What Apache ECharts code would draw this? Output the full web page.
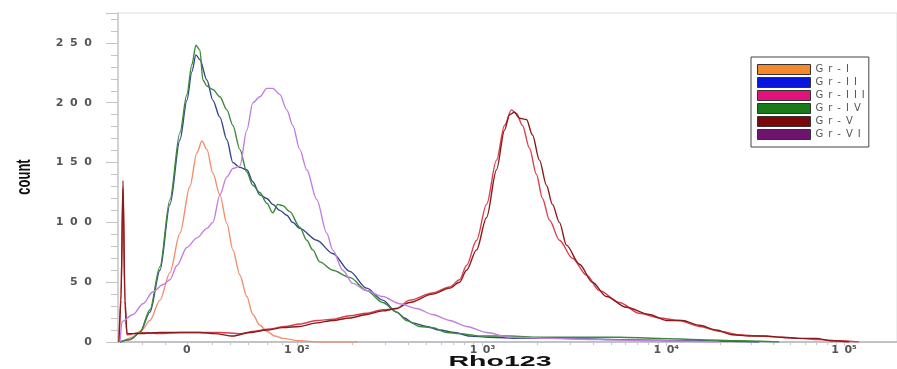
<!DOCTYPE html>
<html>
<head>
<meta charset="utf-8">
<script src="https://cdn.jsdelivr.net/npm/echarts@6/dist/echarts.min.js"></script>
<style>
  html, body { margin: 0; padding: 0; background: #fff; }
  #chart { width: 897px; height: 369px; }
</style>
</head>
<body>
<div id="chart"></div>
<script>
// Rho123 fluorescence histograms, x in display channels (biexponential scale), y in cell count
const groups = ['Gr-I', 'Gr-II', 'Gr-III', 'Gr-IV', 'Gr-V', 'Gr-VI'];

const grI = [[4,0],[15,4],[24,10],[32,18],[42,35],[52,58],[62,91],[72,130],[79,158],[84,168],[89,161],[95,141],[102,123],[109,99],[115,77],[122,56],[129,38],[135,23],[142,14],[149,9],[157,5],[165,3],[182,1],[202,0],[240,0]];

const grII = [[2,0],[12,2],[22,8],[32,25],[42,60],[52,115],[62,169],[69,202],[74,226],[78,240],[82,236],[89,219],[95,202],[102,188],[109,169],[115,150],[122,146],[129,144],[135,134],[142,123],[149,120],[155,115],[162,110],[169,106],[175,100],[182,95],[199,85],[215,74],[232,59],[249,45],[265,35],[279,25],[287,20],[295,16],[309,13],[322,10],[337,8],[352,5],[372,4],[402,3],[442,3],[502,2],[582,1],[642,0]];

const grIII = [[1,0],[3,40],[5,128],[7,30],[9,6],[22,8],[42,7],[62,8],[82,8],[102,8],[122,7],[137,9],[152,11],[167,13],[182,15],[199,18],[215,19],[232,22],[249,24],[265,27],[279,28],[292,35],[315,41],[332,46],[342,52],[349,64],[359,85],[369,115],[379,152],[387,181],[394,194],[399,191],[405,181],[412,162],[419,140],[425,120],[432,102],[442,85],[455,70],[469,56],[482,43],[502,33],[522,24],[542,20],[562,18],[582,13],[602,9],[622,6],[642,5],[662,4],[682,3],[702,2],[722,1],[742,0]];

const grIV = [[2,0],[12,2],[22,8],[32,27],[42,63],[52,119],[62,175],[69,207],[74,232],[78,248],[82,244],[85,219],[89,214],[95,211],[102,205],[109,194],[115,181],[122,161],[129,142],[135,131],[142,125],[149,116],[155,108],[160,115],[165,114],[172,109],[182,96],[189,85],[195,77],[202,67],[215,60],[232,54],[249,43],[265,33],[279,25],[289,18],[302,13],[315,12],[329,8],[342,7],[365,5],[392,5],[422,4],[462,4],[502,4],[542,3],[582,2],[622,1],[662,0]];

const grV = [[1,0],[3,35],[5,135],[7,35],[9,7],[22,7],[42,8],[62,8],[82,8],[97,7],[115,5],[132,8],[149,10],[165,12],[182,13],[199,16],[215,18],[232,20],[249,23],[265,26],[279,28],[292,33],[315,40],[332,45],[342,50],[349,60],[359,77],[369,104],[379,144],[387,177],[392,190],[397,192],[402,187],[409,186],[415,173],[422,152],[429,131],[435,115],[442,100],[449,81],[462,65],[475,50],[489,38],[509,29],[532,23],[549,18],[565,18],[582,14],[599,10],[615,6],[632,5],[649,5],[665,4],[682,3],[699,3],[715,1],[732,0]];

const grVI = [[2,0],[4,17],[15,23],[25,32],[35,42],[45,48],[52,52],[59,64],[69,79],[79,87],[89,95],[95,100],[102,123],[109,138],[115,145],[122,147],[129,177],[135,200],[142,205],[149,212],[155,212],[162,207],[169,194],[175,181],[182,161],[189,144],[199,119],[209,91],[215,77],[225,60],[235,49],[249,43],[265,38],[282,32],[299,28],[315,23],[332,18],[349,13],[369,8],[392,4],[432,3],[482,2],[542,1],[602,0]];

// decade positions on the display-channel axis and their labels
const xTickChannels = [69, 179, 365, 549, 727];
const xTickLabels = ['0', '10\u00b2', '10\u00b3', '10\u2074', '10\u2075'];
const yTicks = [0, 50, 100, 150, 200, 250];

const lineColors = ['#f2906e', '#34478a', '#d9404f', '#3c8a3c', '#8b1a1a', '#c27fe0'];
const legendColors = ['#f5872f', '#0a14e0', '#e3127a', '#1a7a1a', '#7a0808', '#6e1470'];
const seriesData = [grI, grII, grIII, grIV, grV, grVI];

// minor ticks: log steps inside each decade plus the linear zone around zero
const minorTicks = [24, 47, 94, 112, 130, 149, 164];
for (let d = 1; d < xTickChannels.length; d++) {
  const c0 = xTickChannels[d];
  const w = d + 1 < xTickChannels.length ? xTickChannels[d + 1] - c0 : c0 - xTickChannels[d - 1];
  for (let k = 2; k <= 9; k++) {
    const p = c0 + Math.log10(k) * w;
    if (p < 780) minorTicks.push(Math.round(p));
  }
}

const spread = (s, sep) => s.split('').join(sep);
const tickColor = '#c4c4c4';

const chart = echarts.init(document.getElementById('chart'));
chart.setOption({
  animation: false,
  backgroundColor: '#ffffff',
  grid: {
    left: 118, top: 13, right: -1, bottom: 27,
    show: true, borderColor: '#dedede', borderWidth: 1, backgroundColor: 'transparent'
  },
  xAxis: [
    {
      type: 'value', min: 0, max: 780,
      axisLine: { show: true, lineStyle: { color: '#b4b4c0', width: 1.5 } },
      axisTick: { show: true, customValues: xTickChannels, length: 4, lineStyle: { color: tickColor } },
      axisLabel: {
        show: true, customValues: xTickChannels, margin: 3,
        fontFamily: 'DejaVu Sans', fontSize: 11, fontWeight: 'bold', color: '#555',
        formatter: v => {
          const i = xTickChannels.indexOf(v);
          if (i < 0) return '';
          const t = xTickLabels[i];
          return t.length > 1 ? spread(t.slice(0, 2), '\u2002') + t.slice(2) : t;
        }
      },
      splitLine: { show: false }
    },
    {
      type: 'value', min: 0, max: 780, position: 'bottom',
      axisLine: { show: false },
      axisTick: { show: true, customValues: minorTicks, length: 3, lineStyle: { color: tickColor } },
      axisLabel: { show: false },
      splitLine: { show: false }
    }
  ],
  yAxis: [
    {
      type: 'value', min: 0, max: 275, interval: 50,
      axisLine: { show: true, lineStyle: { color: '#c8c8c8', width: 1.5 } },
      axisTick: { show: true, length: 12, lineStyle: { color: tickColor } },
      axisLabel: {
        show: true, margin: 26,
        fontFamily: 'DejaVu Sans', fontSize: 11, fontWeight: 'bold', color: '#555',
        formatter: v => yTicks.indexOf(v) >= 0 ? spread(String(v), '\u2002\u200a') : ''
      },
      splitLine: { show: false }
    },
    {
      type: 'value', min: 0, max: 275, interval: 10, position: 'left',
      axisLine: { show: false },
      axisTick: { show: true, length: 7, lineStyle: { color: tickColor } },
      axisLabel: { show: false },
      splitLine: { show: false }
    }
  ],
  legend: {
    orient: 'vertical', left: 751, top: 57,
    padding: [7, 4, 7, 6],
    itemWidth: 53, itemHeight: 10, itemGap: 2,
    icon: 'rect',
    backgroundColor: '#ffffff', borderColor: '#444', borderWidth: 1,
    textStyle: { fontFamily: 'DejaVu Sans', fontSize: 10, lineHeight: 10, color: '#555' },
    formatter: name => spread(name, '\u2002'),
    data: groups.map((g, i) => ({
      name: g,
      itemStyle: { color: legendColors[i], borderColor: '#333', borderWidth: 1 }
    }))
  },
  graphic: [
    {
      type: 'text', x: 500, y: 362, scaleX: 1.9,
      style: {
        text: 'Rho123', font: 'bold 15px "Liberation Sans"', fill: '#111',
        textAlign: 'center', textVerticalAlign: 'middle', align: 'center', verticalAlign: 'middle'
      }
    },
    {
      type: 'text', x: 25, y: 177, rotation: Math.PI / 2, scaleY: 1.5,
      style: {
        text: 'count', font: 'bold 13px "Liberation Sans"', fill: '#111',
        textAlign: 'center', textVerticalAlign: 'middle', align: 'center', verticalAlign: 'middle'
      }
    }
  ],
  series: groups.map((g, i) => ({
    name: g,
    type: 'line',
    xAxisIndex: 0,
    yAxisIndex: 0,
    data: seriesData[i],
    showSymbol: false,
    smooth: 0.3,
    smoothMonotone: 'x',
    color: lineColors[i],
    lineStyle: { width: 1.4, color: lineColors[i] },
    z: 2
  }))
});
</script>
</body>
</html>
